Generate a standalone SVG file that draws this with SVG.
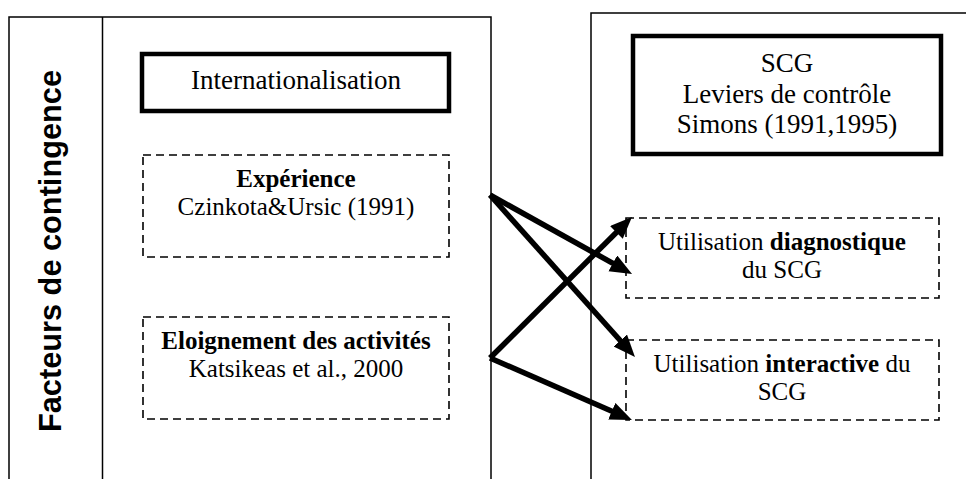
<svg xmlns="http://www.w3.org/2000/svg" width="966" height="479" viewBox="0 0 966 479">
<style>
.frame{fill:none;stroke:#000;stroke-width:1.5}
.thick{fill:#fff;stroke:#000;stroke-width:4.5}
.dash{fill:none;stroke:#000;stroke-width:1.6;stroke-dasharray:8 5}
.t{font-family:"Liberation Serif","Times New Roman",serif;fill:#000;text-anchor:middle}
.h{font-size:27px}
.s{font-size:25px}
.b{font-weight:bold}
.arrow{stroke:#000;stroke-width:5.5;fill:none;marker-end:url(#ah)}
</style>
<defs>
<marker id="ah" markerUnits="userSpaceOnUse" markerWidth="24" markerHeight="20" refX="12" refY="9" orient="auto" viewBox="0 0 24 20">
<path d="M0,0 L22,9 L0,18 z" fill="#000"/>
</marker>
</defs>
<rect width="966" height="479" fill="#fff"/>
<g id="left-panel">
<rect class="frame" x="9" y="17" width="482" height="480"/>
<line class="frame" x1="102.5" y1="17" x2="102.5" y2="479"/>
<text transform="translate(61,251) rotate(-90)" font-family="'Liberation Sans',Arial,sans-serif" font-weight="bold" font-size="31" text-anchor="middle" textLength="362" lengthAdjust="spacingAndGlyphs">Facteurs de contingence</text>
</g>
<g id="right-panel">
<rect class="frame" x="591" y="13" width="400" height="480"/>
</g>
<g id="internationalisation">
<rect class="thick" x="142" y="54" width="307" height="57"/>
<text class="t h" x="296" y="89">Internationalisation</text>
</g>
<g id="experience">
<rect class="dash" x="143" y="155" width="306" height="102"/>
<text class="t s b" x="296" y="187">Expérience</text>
<text class="t s" x="296" y="215">Czinkota&amp;Ursic (1991)</text>
</g>
<g id="eloignement">
<rect class="dash" x="143" y="317" width="306" height="102"/>
<text class="t s b" x="296" y="349">Eloignement des activités</text>
<text class="t s" x="296" y="377">Katsikeas et al., 2000</text>
</g>
<g id="scg">
<rect class="thick" x="633" y="36" width="308" height="118"/>
<text class="t h" x="787" y="72">SCG</text>
<text class="t h" x="787" y="103">Leviers de contrôle</text>
<text class="t h" x="787" y="133">Simons (1991,1995)</text>
</g>
<g id="diagnostique">
<rect class="dash" x="626" y="218" width="313" height="80"/>
<text class="t s" x="782" y="250">Utilisation <tspan class="b">diagnostique</tspan></text>
<text class="t s" x="782" y="278">du SCG</text>
</g>
<g id="interactive">
<rect class="dash" x="626" y="340" width="313" height="80"/>
<text class="t s" x="782" y="372">Utilisation <tspan class="b">interactive</tspan> du</text>
<text class="t s" x="782" y="400">SCG</text>
</g>
<g id="connectors">
<line class="arrow" x1="490" y1="195" x2="623.3" y2="269.1"/>
<line class="arrow" x1="490" y1="195" x2="628.3" y2="349.5"/>
<line class="arrow" x1="490" y1="358" x2="624.9" y2="224"/>
<line class="arrow" x1="490" y1="358" x2="622.8" y2="416"/>
</g>
</svg>
